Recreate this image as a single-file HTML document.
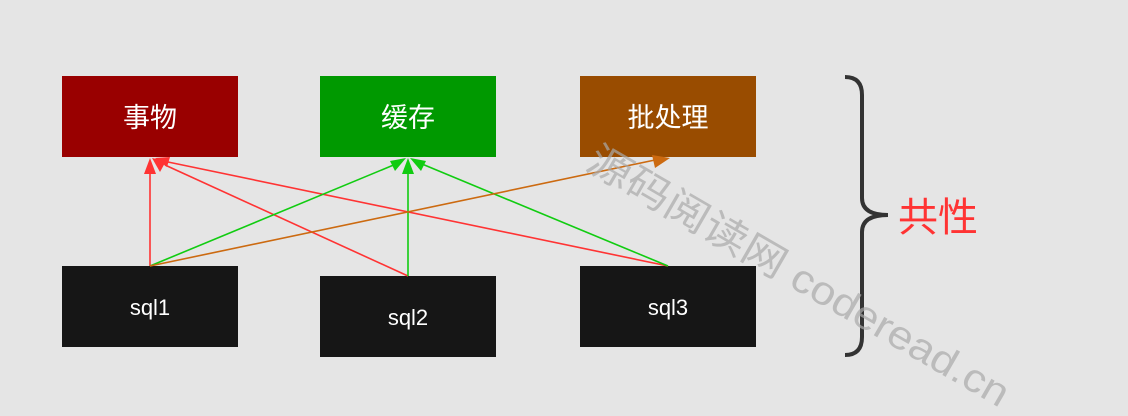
<!DOCTYPE html>
<html><head><meta charset="utf-8"><style>
html,body{margin:0;background:#e5e5e5;overflow:hidden;width:1128px;height:416px;}
svg{display:block}
</style></head><body>
<svg width="1128" height="416" xmlns="http://www.w3.org/2000/svg" font-family="Liberation Sans, Noto Sans CJK SC, sans-serif" overflow="hidden">
<rect width="1128" height="416" fill="#e5e5e5"/>
<rect x="62" y="76" width="176" height="81" fill="#990000"/>
<rect x="320" y="76" width="176" height="81" fill="#009900"/>
<rect x="580" y="76" width="176" height="81" fill="#994c00"/>
<rect x="62" y="266" width="176" height="81" fill="#161616"/>
<rect x="320" y="276" width="176" height="81" fill="#161616"/>
<rect x="580" y="266" width="176" height="81" fill="#161616"/>
<g fill="#fff" font-size="27" text-anchor="middle">
<text x="150" y="127">事物</text><text x="408" y="127">缓存</text><text x="668" y="127">批处理</text>
</g>
<g fill="#fff" font-size="22" text-anchor="middle">
<text x="150" y="315">sql1</text><text x="408" y="325">sql2</text><text x="668" y="315">sql3</text>
</g>
<g stroke-width="1.6" fill="none">
<line x1="150" y1="266" x2="150" y2="172" stroke="#ff3333"/>
<line x1="408" y1="276" x2="165" y2="165" stroke="#ff3333"/>
<line x1="668" y1="266" x2="168" y2="162" stroke="#ff3333"/>
<line x1="150" y1="266" x2="396" y2="164" stroke="#11cc11"/>
<line x1="408" y1="276" x2="408" y2="172" stroke="#11cc11"/>
<line x1="668" y1="266" x2="422" y2="164" stroke="#11cc11"/>
<line x1="150" y1="266" x2="655" y2="160" stroke="#cc6a10"/>
</g>
<g>
<path d="M150,158 L144,174 L156,174z" fill="#ff3333"/>
<path d="M152,158 L160,172 L166,161z" fill="#ff3333"/>
<path d="M155,158 L167,167 L170,157z" fill="#ff3333"/>
<path d="M408,158 L402,174 L414,174z" fill="#11cc11"/>
<path d="M406,158 L390,161 L395,171z" fill="#11cc11"/>
<path d="M410,158 L421,171 L426,161z" fill="#11cc11"/>
<path d="M670,158 L652,155 L655,168z" fill="#cc6a10"/>
</g>
<path d="M845,77 Q862,77 862,95 L862,198 Q862,215 888,215 Q862,215 862,232 L862,337 Q862,355 845,355" stroke="#333" stroke-width="4" fill="none"/>
<text x="898" y="231" font-size="40" fill="#ff3333">共性</text>
<text x="0" y="0" font-size="40" fill="#aaaaaa" opacity="0.7" transform="translate(584,168) rotate(30)" textLength="480" lengthAdjust="spacingAndGlyphs">源码阅读网 coderead.cn</text>
</svg>
</body></html>
